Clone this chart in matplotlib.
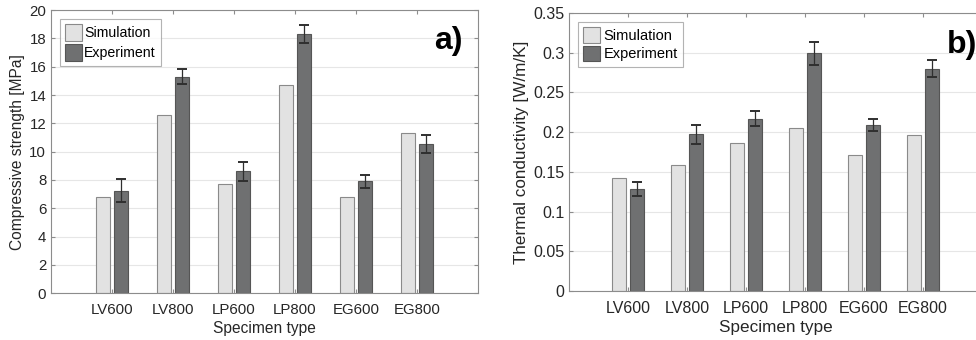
import numpy as np
import matplotlib.pyplot as plt

plt.rcParams['font.family'] = ['Liberation Sans', 'DejaVu Sans']

specimens = ['LV600', 'LV800', 'LP600', 'LP800', 'EG600', 'EG800']

# compressive strength [MPa]
cs_sim = [6.8, 12.6, 7.7, 14.7, 6.8, 11.35]
cs_exp = [7.25, 15.3, 8.6, 18.3, 7.9, 10.55]
cs_err = [0.8, 0.55, 0.7, 0.65, 0.45, 0.65]

# thermal conductivity [W/m/K]
tc_sim = [0.142, 0.159, 0.186, 0.205, 0.171, 0.196]
tc_exp = [0.128, 0.197, 0.217, 0.299, 0.209, 0.280]
tc_err = [0.009, 0.012, 0.009, 0.014, 0.007, 0.011]

c_sim = '#e2e2e2'
c_exp = '#6f7071'
edge = '#8a8a8a'

def panel(ax, sim, exp, err, off, w, ylim, yticks, ylabel, fs, lfs, leg_fs, hh):
    x = np.arange(1, len(specimens) + 1)
    ax.bar(x - off, sim, w, color=c_sim, edgecolor=edge, linewidth=0.8,
           label='Simulation', zorder=2)
    ax.bar(x + off, exp, w, color=c_exp, edgecolor='#555555', linewidth=0.8,
           label='Experiment', zorder=2)
    ax.errorbar(x + off, exp, yerr=err, fmt='none', ecolor='#2f2f2f',
                elinewidth=0.9, capsize=3.5, capthick=1.4, zorder=3)
    ax.set_xlim(0, 7)
    ax.set_ylim(*ylim)
    ax.set_xticks(x)
    ax.set_xticklabels(specimens)
    ax.set_yticks(yticks)
    ax.yaxis.grid(True, color='#e6e6e6', linewidth=0.8, zorder=0)
    ax.set_axisbelow(True)
    for s in ax.spines.values():
        s.set_color('#8c8c8c')
        s.set_linewidth(0.8)
    ax.tick_params(direction='in', top=True, right=True, length=3,
                   color='#8c8c8c', labelsize=fs, labelcolor='#262626')
    ax.tick_params(axis='x', pad=7)
    ax.set_xlabel('Specimen type', fontsize=lfs, color='#262626', labelpad=3)
    ax.set_ylabel(ylabel, fontsize=lfs, color='#262626', labelpad=3)
    leg = ax.legend(loc='upper left', fontsize=leg_fs, frameon=True,
                    fancybox=False, edgecolor='#a0a0a0', handlelength=1.2,
                    handleheight=hh, handletextpad=0.2, borderpad=0.35,
                    labelspacing=0.2, borderaxespad=0.6)
    leg.get_frame().set_linewidth(0.8)
    return ax

fig = plt.figure(figsize=(9.76, 3.40), dpi=100)

ax1 = fig.add_axes([0.0523, 0.138, 0.4375, 0.832])
panel(ax1, cs_sim, cs_exp, cs_err, 0.145, 0.23, (0, 20), np.arange(0, 21, 2),
      'Compressive strength [MPa]', 10.8, 11.2, 10.2, 1.5)
ax1.text(0.965, 0.945, 'a)', transform=ax1.transAxes, ha='right', va='top',
         fontsize=23, fontweight='bold', color='black')

ax2 = fig.add_axes([0.583, 0.144, 0.423, 0.818])
panel(ax2, tc_sim, tc_exp, tc_err, 0.15, 0.24, (0, 0.35),
      [0, 0.05, 0.1, 0.15, 0.2, 0.25, 0.3, 0.35],
      'Thermal conductivity [W/m/K]', 11.5, 12.3, 10.5, 1.3)
ax2.set_yticklabels(['0', '0.05', '0.1', '0.15', '0.2', '0.25', '0.3', '0.35'])
ax2.text(0.99, 0.94, 'b)', transform=ax2.transAxes, ha='right', va='top',
         fontsize=23, fontweight='bold', color='black')

fig.savefig('out.png', dpi=100)
